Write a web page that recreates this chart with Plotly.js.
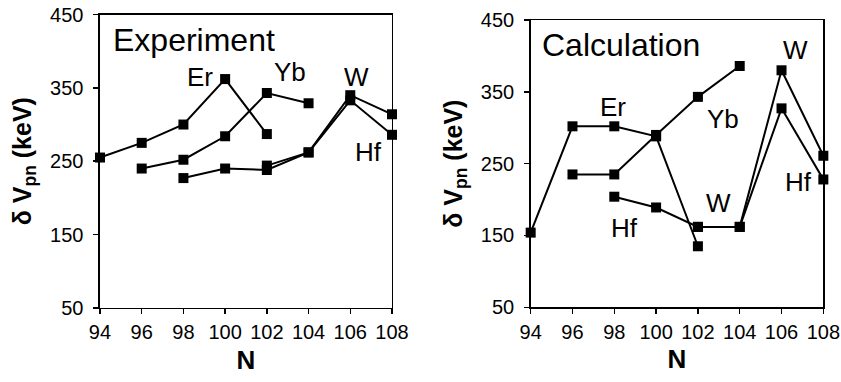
<!DOCTYPE html>
<html><head><meta charset="utf-8">
<script src="https://cdn.plot.ly/plotly-3.0.1.min.js"></script>
<style>html,body{margin:0;padding:0;background:#fff}#chart{width:841px;height:382px}</style>
</head><body><div id="chart"></div>
<script>
// Experiment
const expErN = [94, 96, 98, 100, 102];
const expErV = [255, 275, 300, 362, 287];
const expYbN = [96, 98, 100, 102, 104];
const expYbV = [240, 252, 284, 343, 329];
const expHfN = [98, 100, 102, 104, 106, 108];
const expHfV = [227, 240, 238, 262, 333, 286];
const expWN = [102, 104, 106, 108];
const expWV = [244, 262, 340, 314];
// Calculation
const calErN = [94, 96, 98, 100, 102];
const calErV = [154, 302, 302, 288, 135];
const calYbN = [96, 98, 100, 102, 104];
const calYbV = [235, 235, 290, 343, 386];
const calHfN = [98, 100, 102, 104, 106, 108];
const calHfV = [204, 189, 162, 162, 327, 228];
const calWN = [102, 104, 106, 108];
const calWV = [162, 162, 380, 261];

const tickN = [94, 96, 98, 100, 102, 104, 106, 108];
const tickV = [50, 150, 250, 350, 450];

const FONT = 'Liberation Sans, Arial, sans-serif';
function tr(x, y, xa, ya) {
  return {x: x, y: y, xaxis: xa, yaxis: ya, type: 'scatter', mode: 'lines+markers',
    line: {color: '#000', width: 2}, marker: {symbol: 'square', size: 10, color: '#000'},
    showlegend: false, hoverinfo: 'skip', cliponaxis: false};
}
const data = [
  tr(expErN, expErV, 'x', 'y'), tr(expYbN, expYbV, 'x', 'y'),
  tr(expHfN, expHfV, 'x', 'y'), tr(expWN, expWV, 'x', 'y'),
  tr(calErN, calErV, 'x2', 'y2'), tr(calYbN, calYbV, 'x2', 'y2'),
  tr(calHfN, calHfV, 'x2', 'y2'), tr(calWN, calWV, 'x2', 'y2')
];
function xax(dom, anchor) {
  return {domain: dom, anchor: anchor, range: [94, 108], tickvals: tickN, ticks: 'outside', ticklen: 5,
    tickwidth: 1.5, tickcolor: '#000', showline: true, linecolor: '#000', linewidth: 1.5, mirror: true,
    showgrid: false, zeroline: false, tickfont: {family: FONT, size: 20, color: '#000'},
    ticklabelstandoff: 1,
    title: {text: '<b>N</b>', font: {family: FONT, size: 26, color: '#000'}, standoff: 8}};
}
function yax(dom, anchor) {
  return {domain: dom, anchor: anchor, range: [50, 450], tickvals: tickV, ticks: 'outside', ticklen: 5,
    tickwidth: 1.5, tickcolor: '#000', showline: true, linecolor: '#000', linewidth: 1.5, mirror: true,
    showgrid: false, zeroline: false, tickfont: {family: FONT, size: 20, color: '#000'},
    ticklabelstandoff: 6,
    title: {text: '<b>δ V<sub>pn</sub> (keV)</b>', font: {family: FONT, size: 25, color: '#000'}, standoff: 11}};
}
function lab(text, x, y, xr, yr, size) {
  return {text: text, x: x, y: y, xref: xr, yref: yr, showarrow: false,
    font: {family: FONT, size: size || 26, color: '#000'}, xanchor: 'center', yanchor: 'middle'};
}
const layout = {
  width: 841, height: 382, margin: {l: 0, r: 0, t: 0, b: 0},
  paper_bgcolor: '#fff', plot_bgcolor: '#fff',
  xaxis: xax([0.1189, 0.4661], 'y'), yaxis: yax([0.194, 0.962], 'x'),
  xaxis2: xax([0.631, 0.979], 'y2'), yaxis2: yax([0.1955, 0.9476], 'x2'),
  annotations: [
    lab('Experiment', 98.5, 415, 'x', 'y', 32),
    lab('Er', 98.8, 365, 'x', 'y'), lab('Yb', 103.1, 372, 'x', 'y'),
    lab('W', 106.3, 365, 'x', 'y'), lab('Hf', 106.85, 263, 'x', 'y'),
    lab('Calculation', 98.3, 415, 'x2', 'y2', 32),
    lab('Er', 97.95, 329, 'x2', 'y2'), lab('Yb', 103.2, 312, 'x2', 'y2'),
    lab('W', 103.0, 195, 'x2', 'y2'), lab('Hf', 98.5, 160, 'x2', 'y2'),
    lab('W', 106.65, 408, 'x2', 'y2'), lab('Hf', 106.8, 224, 'x2', 'y2')
  ]
};
Plotly.newPlot('chart', data, layout, {staticPlot: true, displayModeBar: false});
</script></body></html>
